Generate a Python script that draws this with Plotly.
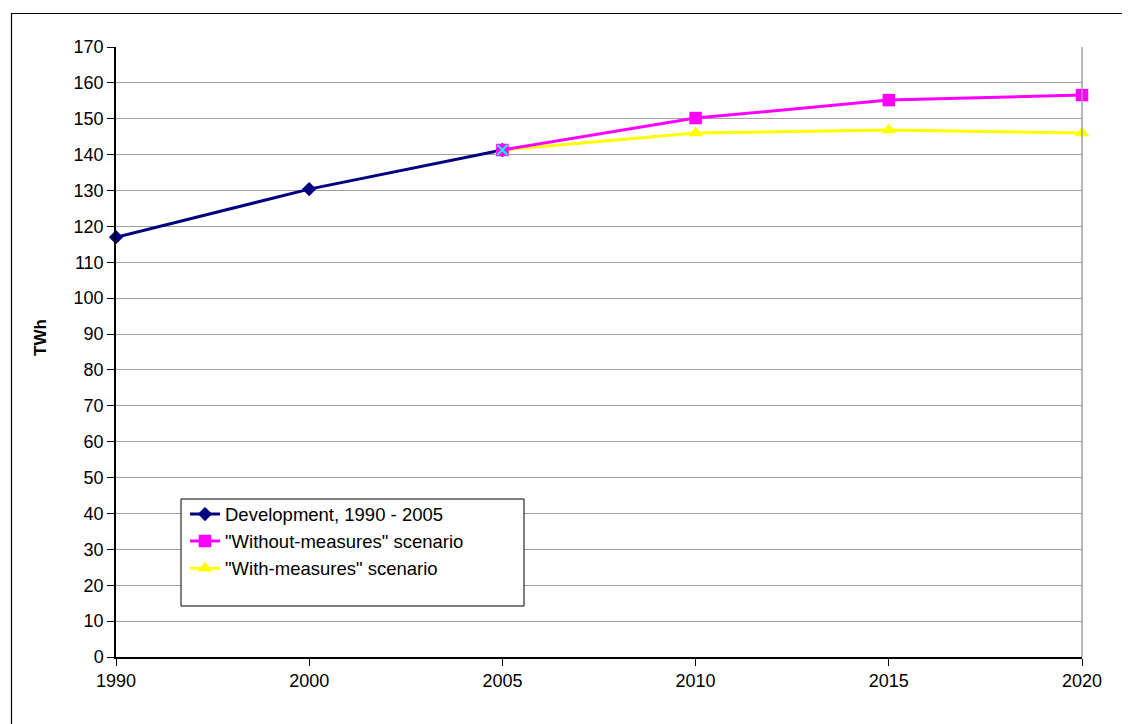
import plotly.graph_objects as go

years = ["1990", "2000", "2005", "2010", "2015", "2020"]
dev_years = ["1990", "2000", "2005"]
dev_values = [117.0, 130.4, 141.3]
scen_years = ["2005", "2010", "2015", "2020"]
without_values = [141.3, 150.2, 155.2, 156.6]
with_values = [141.3, 146.0, 146.9, 146.0]
marker_2005_year = ["2005"]
marker_2005_value = [141.3]

# page has an 8px body margin; figure coordinates are offset by it
OFF = 8
W, H = 1130 - OFF, 724 - OFF
PL, PR, PT, PB = 116, 1082, 47, 657  # plot area in page pixels
L, T = PL - OFF, PT - OFF
R, B = W - (PR - OFF), H - (PB - OFF)
pw, ph = PR - PL, PB - PT

def px_x(p):
    return (p - PL) / pw

def px_y(p):
    return (PB - p) / ph

fig = go.Figure()
fig.add_trace(go.Scatter(x=dev_years, y=dev_values, mode="lines+markers",
                         name="Development, 1990 - 2005", legendgroup="a", legendrank=1,
                         cliponaxis=False,
                         line=dict(color="#000080", width=3),
                         marker=dict(symbol="diamond", size=11, color="#000080")))
fig.add_trace(go.Scatter(x=scen_years, y=with_values, mode="lines+markers",
                         name="\"With-measures\" scenario", legendgroup="c", legendrank=3,
                         cliponaxis=False,
                         line=dict(color="#FFFF00", width=3),
                         marker=dict(symbol="triangle-up", size=13, color="#FFFF00")))
fig.add_trace(go.Scatter(x=scen_years, y=without_values, mode="lines+markers",
                         name="\"Without-measures\" scenario", legendgroup="b", legendrank=2,
                         cliponaxis=False,
                         line=dict(color="#FF00FF", width=3),
                         marker=dict(symbol="square", size=12.5, color="#FF00FF")))
fig.add_trace(go.Scatter(x=marker_2005_year, y=marker_2005_value, mode="markers",
                         showlegend=False, cliponaxis=False,
                         marker=dict(symbol="x-thin", size=10, line=dict(color="#00FFFF", width=2))))

fig.update_layout(
    width=W, height=H,
    margin=dict(l=L, r=R, t=T, b=B),
    paper_bgcolor="white", plot_bgcolor="white",
    font=dict(family="Arial, Liberation Sans, sans-serif", size=18, color="black"),
    showlegend=True,
    legend=dict(x=px_x(185), y=px_y(495.5), xanchor="left", yanchor="top",
                bgcolor="rgba(0,0,0,0)", borderwidth=0,
                traceorder="grouped", tracegroupgap=0,
                font=dict(size=18.5)),
    xaxis=dict(type="category", categoryorder="array", categoryarray=years,
               range=[0, 5], showgrid=False, showline=True, linecolor="black",
               linewidth=1.5, ticks="outside", ticklen=7, tickcolor="black",
               zeroline=False, tickfont=dict(size=18)),
    yaxis=dict(range=[0, 170], dtick=10, tick0=0, showgrid=True,
               gridcolor="#a0a0a0", gridwidth=1, showline=True, linecolor="black",
               linewidth=1.5, ticks="outside", ticklen=7, tickcolor="black",
               zeroline=False, tickfont=dict(size=18)),
    shapes=[
        dict(type="line", xref="paper", yref="paper", x0=1, x1=1, y0=0, y1=1,
             line=dict(color="#a0a0a0", width=1.5)),
        dict(type="rect", xref="paper", yref="paper",
             x0=px_x(181), x1=px_x(524), y0=px_y(606), y1=px_y(499),
             fillcolor="white", line=dict(color="black", width=1), layer="above"),
        dict(type="rect", xref="paper", yref="paper",
             x0=px_x(11.5), x1=px_x(1140), y0=px_y(740), y1=px_y(13.5),
             fillcolor="rgba(0,0,0,0)", line=dict(color="black", width=1.2)),
    ],
    annotations=[
        dict(text="<b>TWh</b>", xref="paper", yref="paper", x=px_x(41), y=px_y(338),
             textangle=-90, showarrow=False, font=dict(size=17),
             xanchor="center", yanchor="middle"),
    ],
)

fig.write_html("out.html")
